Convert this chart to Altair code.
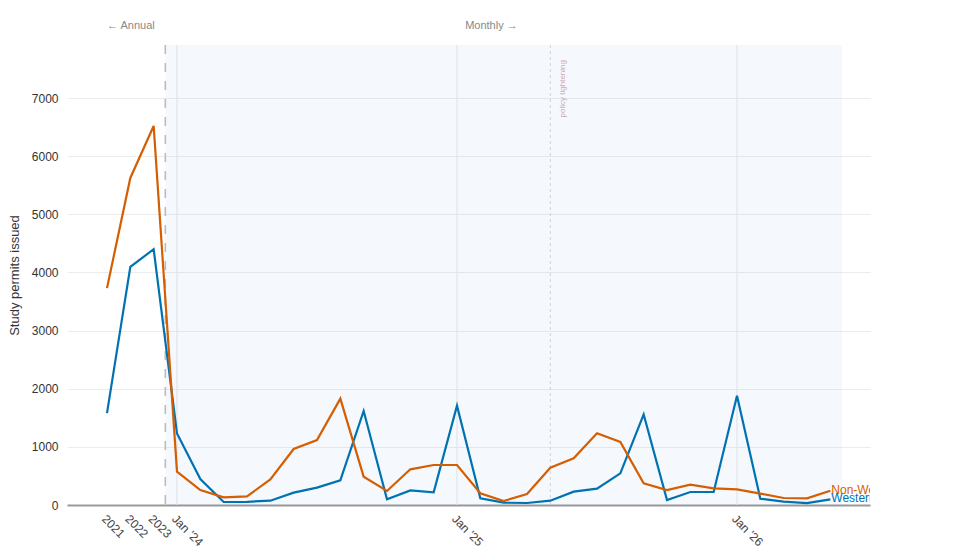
import altair as alt
import pandas as pd

# ---- data ----
annual_labels = ["2021", "2022", "2023"]
western_annual = [1580, 4095, 4400]
nonwestern_annual = [3730, 5625, 6520]

# monthly Jan '24 .. May '26
month_names = ["Jan", "Feb", "Mar", "Apr", "May", "Jun", "Jul", "Aug", "Sep", "Oct", "Nov", "Dec"]
month_labels = [f"{m} '{y}" for y in (24, 25, 26) for m in month_names][:29]
western_monthly = [1230, 447, 52, 55, 74, 212, 298, 424, 1617, 98, 252, 218,
                   1708, 115, 40, 34, 74, 229, 281, 545, 1559, 86, 224, 224,
                   1880, 108, 57, 34, 98]
nonwestern_monthly = [573, 258, 132, 149, 441, 963, 1118, 1829, 487, 241, 614, 688,
                      688, 201, 69, 189, 642, 805, 1233, 1084, 373, 258, 350, 287,
                      270, 195, 120, 115, 246]

period_labels = annual_labels + month_labels
tick_index = [0, 1, 2, 3, 15, 27]
tick_text = ["2021", "2022", "2023", "Jan '24", "Jan '25", "Jan '26"]
jan_index = [3, 15, 27]
split_index = 2.5
policy_index = 19
shade_end = 31.5

series_names = ["Non-Western", "Western"]
series_colors = ["#d55e00", "#0072b2"]

rows = []
for name, vals in (("Western", western_annual + western_monthly),
                   ("Non-Western", nonwestern_annual + nonwestern_monthly)):
    for i, v in enumerate(vals):
        rows.append({"idx": i, "period": period_labels[i], "value": v, "series": name})
df = pd.DataFrame(rows)
last = df[df["idx"] == df["idx"].max()]

label_expr = " : ".join(
    f"datum.value == {i} ? \"{t}\"" for i, t in zip(tick_index, tick_text)
) + " : ''"

W, H = 803, 460
xscale = alt.Scale(domain=[-1.714, 32.7], nice=False, zero=False)
yscale = alt.Scale(domain=[0, 7912], nice=False)

x_enc = alt.X("idx:Q", scale=xscale,
              axis=alt.Axis(values=tick_index, labelExpr=label_expr, labelAngle=45,
                            labelAlign="left", labelBaseline="top", labelFontSize=12,
                            labelColor="#444", labelOverlap=False, labelPadding=8,
                            grid=False, ticks=False, domain=True, domainColor="#999",
                            domainWidth=2, title=None))
y_enc = alt.Y("value:Q", scale=yscale,
              axis=alt.Axis(values=[0, 1000, 2000, 3000, 4000, 5000, 6000, 7000],
                            format="d", labelFontSize=12, labelColor="#333",
                            labelPadding=9, ticks=False, domain=False,
                            gridColor="#ececec", gridWidth=1,
                            title="Study permits issued", titleFontSize=13,
                            titleFontWeight="normal", titleColor="#333",
                            titleX=-46, titleY=H / 2, titleAngle=270,
                            titleBaseline="bottom", titleAlign="center"))

base = alt.Chart(df)

shade = alt.Chart(pd.DataFrame({"a": [split_index], "b": [shade_end]})).mark_rect(
    color="#3b6fe0", opacity=0.05
).encode(x=alt.X("a:Q", scale=xscale), x2="b:Q", y=alt.value(0), y2=alt.value(H))

jan_rules = alt.Chart(pd.DataFrame({"j": jan_index})).mark_rule(
    color="#e2e4ea", strokeWidth=1.2
).encode(x=alt.X("j:Q", scale=xscale))

split_rule = alt.Chart(pd.DataFrame({"s": [split_index]})).mark_rule(
    color="#bbbbbb", strokeWidth=1.6, strokeDash=[9, 9]
).encode(x=alt.X("s:Q", scale=xscale))

policy_rule = alt.Chart(pd.DataFrame({"p": [policy_index]})).mark_rule(
    color="#dccbd6", strokeWidth=1, strokeDash=[3, 3]
).encode(x=alt.X("p:Q", scale=xscale))

policy_text = alt.Chart(pd.DataFrame({"p": [policy_index + 0.56], "t": ["policy tightening"]})).mark_text(
    angle=270, align="right", baseline="middle", fontSize=8, color="#c9a9ba"
).encode(x=alt.X("p:Q", scale=xscale), y=alt.value(15), text="t:N")

lines = base.mark_line(strokeWidth=2.2).encode(
    x=x_enc, y=y_enc,
    color=alt.Color("series:N", scale=alt.Scale(domain=series_names, range=series_colors), legend=None),
    detail="series:N",
)

end_labels = alt.Chart(last).mark_text(
    align="left", baseline="middle", dx=1, dy=-1, fontSize=12, clip=True
).encode(
    x=alt.X("idx:Q", scale=xscale), y=alt.Y("value:Q", scale=yscale),
    text="series:N",
    color=alt.Color("series:N", scale=alt.Scale(domain=series_names, range=series_colors), legend=None),
)

top_labels = alt.Chart(pd.DataFrame({"i": [0, 15.35], "t": ["\u2190 Annual", "Monthly \u2192"]})).mark_text(
    align="left", baseline="middle", fontSize=11, color="#888"
).encode(x=alt.X("i:Q", scale=xscale), y=alt.value(-19), text="t:N")

chart = alt.layer(
    shade, jan_rules, split_rule, policy_rule, policy_text, lines, end_labels, top_labels
).properties(
    width=W, height=H,
    autosize=alt.AutoSizeParams(type="none"),
    padding={"left": 59, "top": 37, "right": 30, "bottom": 48},
).configure(
    font="Liberation Sans, Arial, Helvetica, sans-serif"
).configure_view(stroke=None)

chart.save("out.html", embed_options={"renderer": "svg", "actions": False})
